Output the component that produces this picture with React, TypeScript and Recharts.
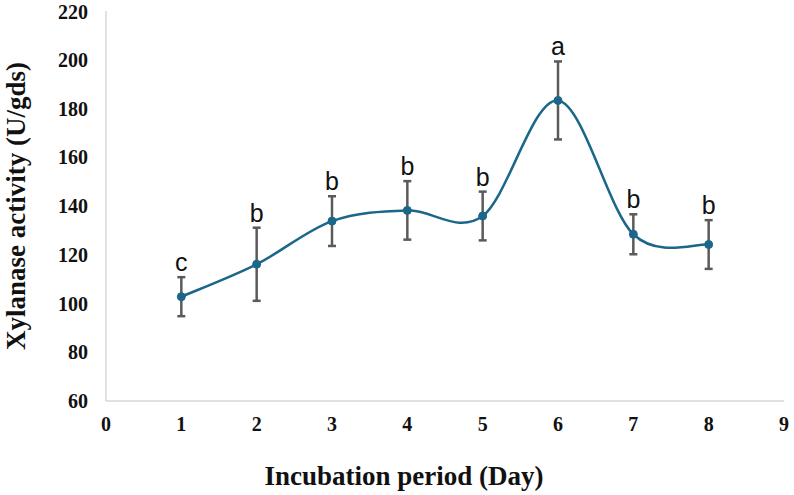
import React from 'react';
import { LineChart, Line, XAxis, YAxis, ErrorBar, LabelList } from 'recharts';

const days = [1, 2, 3, 4, 5, 6, 7, 8];
const xylanase = [102.8, 116.1, 133.8, 138.2, 135.9, 183.3, 128.4, 124.2];
const sd = [8, 15, 10.2, 12, 10, 16, 8.2, 10];
const letters = ['c', 'b', 'b', 'b', 'b', 'a', 'b', 'b'];
const xTicks = [0, 1, 2, 3, 4, 5, 6, 7, 8, 9];
const yTicks = [60, 80, 100, 120, 140, 160, 180, 200, 220];

const data = days.map((d, i) => ({
  day: d,
  activity: xylanase[i],
  err: sd[i],
  top: xylanase[i] + sd[i],
  letter: letters[i],
}));

const LINE = '#1b678a';
const BAR = '#5a5a5a';
const SERIF = '"Times New Roman", "Liberation Serif", serif';

// Excel-like smoothed line (Catmull-Rom through every point)
function smoothCurve(context: any) {
  let pts: number[][] = [];
  return {
    areaStart() {},
    areaEnd() {},
    lineStart() {
      pts = [];
    },
    point(x: number, y: number) {
      pts.push([+x, +y]);
    },
    lineEnd() {
      if (!pts.length) return;
      context.moveTo(pts[0][0], pts[0][1]);
      for (let i = 0; i < pts.length - 1; i++) {
        const p0 = pts[i - 1] || pts[i];
        const p1 = pts[i];
        const p2 = pts[i + 1];
        const p3 = pts[i + 2] || p2;
        context.bezierCurveTo(
          p1[0] + (p2[0] - p0[0]) / 6,
          p1[1] + (p2[1] - p0[1]) / 6,
          p2[0] - (p3[0] - p1[0]) / 6,
          p2[1] - (p3[1] - p1[1]) / 6,
          p2[0],
          p2[1]
        );
      }
    },
  };
}

const tickStyle = { fontFamily: SERIF, fontWeight: 700, fontSize: 20, fill: '#111' };

export default function App() {
  return (
    <div style={{ width: 794, height: 495, background: '#fff' }}>
      <style>{'body{margin:0}'}</style>
      <LineChart width={794} height={495} data={data} margin={{ top: 11, right: 10, bottom: 0, left: 0 }}>
        <XAxis
          dataKey="day"
          type="number"
          domain={[0, 9]}
          ticks={xTicks}
          height={94}
          tickLine={false}
          tickSize={0}
          tickMargin={16}
          axisLine={{ stroke: '#c4c4c4', strokeWidth: 1 }}
          tick={tickStyle}
          label={{
            content: (p: any) => (
              <text
                x={p.viewBox.x + p.viewBox.width / 2 - 41}
                y={485}
                textAnchor="middle"
                fontFamily={SERIF}
                fontWeight={700}
                fontSize={27}
                fill="#111"
              >
                Incubation period (Day)
              </text>
            ),
          }}
        />
        <YAxis
          type="number"
          domain={[60, 220]}
          ticks={yTicks}
          width={106}
          tickLine={false}
          tickSize={0}
          tickMargin={18}
          axisLine={{ stroke: '#c4c4c4', strokeWidth: 1 }}
          tick={tickStyle}
          label={{
            content: (p: any) => {
              const cy = p.viewBox.y + p.viewBox.height / 2;
              return (
                <text
                  x={16}
                  y={cy}
                  transform={`rotate(-90, 16, ${cy})`}
                  textAnchor="middle"
                  dominantBaseline="central"
                  fontFamily={SERIF}
                  fontWeight={700}
                  fontSize={27}
                  fill="#111"
                >
                  Xylanase activity (U/gds)
                </text>
              );
            },
          }}
        />
        <Line
          dataKey="top"
          stroke="none"
          dot={false}
          activeDot={false}
          isAnimationActive={false}
          legendType="none"
        >
          <LabelList
            dataKey="letter"
            position="top"
            offset={6}
            style={{ fontFamily: '"Liberation Sans", Arial, sans-serif', fontSize: 25, fill: '#111' }}
          />
        </Line>
        <Line
          dataKey="activity"
          type={smoothCurve as any}
          stroke={LINE}
          strokeWidth={2.5}
          dot={{ r: 4, fill: LINE, stroke: LINE, strokeWidth: 1 }}
          activeDot={false}
          isAnimationActive={false}
        >
          <ErrorBar dataKey="err" direction="y" width={4} stroke={BAR} strokeWidth={2.5} />
        </Line>
      </LineChart>
    </div>
  );
}
